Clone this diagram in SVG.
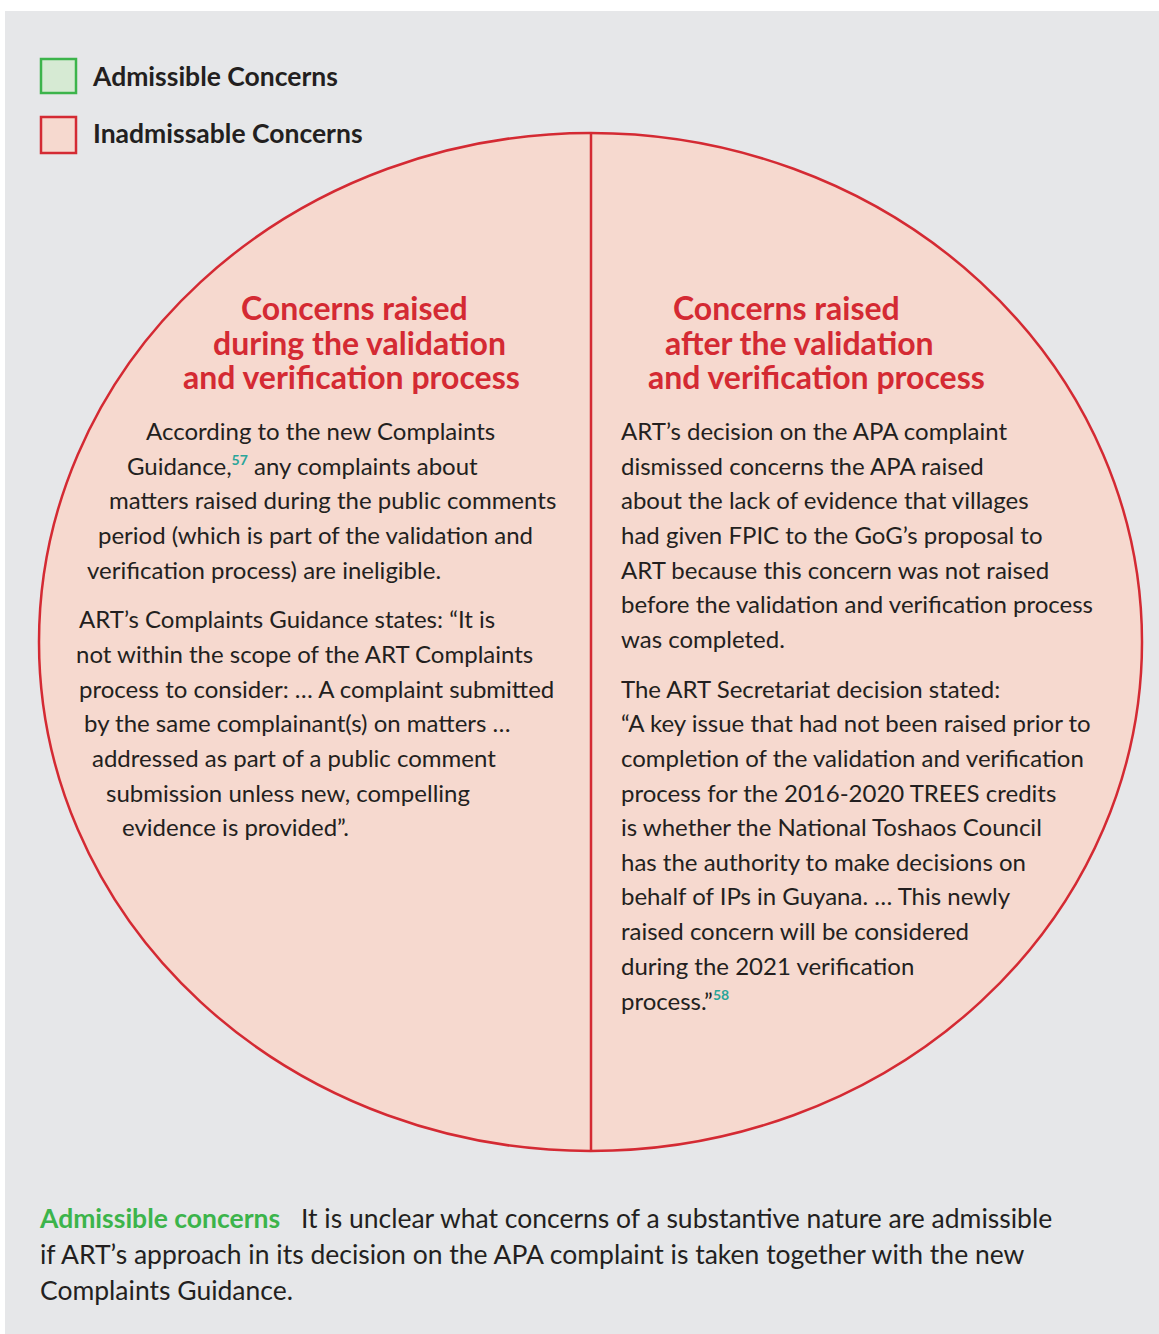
<svg xmlns="http://www.w3.org/2000/svg" width="1159" height="1334" viewBox="0 0 1159 1334">
<style>
.bg{fill:#e6e7e9}
.body{font-family:Lato,"Liberation Sans",sans-serif;font-size:24px;fill:#231f20}
.head{font-family:Lato,"Liberation Sans",sans-serif;font-size:32px;font-weight:bold;fill:#d42a33}
.leg{font-family:Lato,"Liberation Sans",sans-serif;font-size:26.5px;font-weight:bold;fill:#231f20}
.foot{font-family:Lato,"Liberation Sans",sans-serif;font-size:26.5px;fill:#231f20}
.sup{font-size:14px;font-weight:bold;fill:#2aa59a}
</style>
<rect width="1159" height="1334" fill="#ffffff"/>
<rect class="bg" x="5" y="11" width="1154" height="1323"/>
<g id="legend">
<rect x="41" y="59" width="35" height="34" fill="#d6ead3" stroke="#3cb44b" stroke-width="2.5"/>
<text class="leg" x="93" y="86">Admissible Concerns</text>
<rect x="41" y="117" width="35" height="36" fill="#f6d9cf" stroke="#d42a33" stroke-width="2.5"/>
<text class="leg" x="93" y="143">Inadmissable Concerns</text>
</g>
<g id="circle">
<ellipse cx="590.5" cy="642" rx="551.5" ry="509" fill="#f6d9cf" stroke="#d42a33" stroke-width="2.5"/>
</g>
<g id="connectors">
<line x1="591" y1="133" x2="591" y2="1151" stroke="#d42a33" stroke-width="2.5"/>
</g>
<g id="left">
<text class="head" x="241" y="320">Concerns raised</text>
<text class="head" x="213" y="355">during the validation</text>
<text class="head" x="183" y="389">and verification process</text>
<text class="body" x="146" y="440">According to the new Complaints</text>
<text class="body" x="127" y="475">Guidance,<tspan class="sup" dy="-10">57</tspan><tspan dy="10"> any complaints about</tspan></text>
<text class="body" x="109" y="509">matters raised during the public comments</text>
<text class="body" x="98" y="544">period (which is part of the validation and</text>
<text class="body" x="87" y="579">verification process) are ineligible.</text>
<text class="body" x="79" y="628">ART’s Complaints Guidance states: “It is</text>
<text class="body" x="76" y="663">not within the scope of the ART Complaints</text>
<text class="body" x="79" y="698">process to consider: … A complaint submitted</text>
<text class="body" x="84" y="732">by the same complainant(s) on matters …</text>
<text class="body" x="92" y="767">addressed as part of a public comment</text>
<text class="body" x="106" y="802">submission unless new, compelling</text>
<text class="body" x="122" y="836">evidence is provided”.</text>
</g>
<g id="right">
<text class="head" x="673" y="320">Concerns raised</text>
<text class="head" x="665" y="355">after the validation</text>
<text class="head" x="648" y="389">and verification process</text>
<text class="body" x="621" y="440">ART’s decision on the APA complaint</text>
<text class="body" x="621" y="475">dismissed concerns the APA raised</text>
<text class="body" x="621" y="509">about the lack of evidence that villages</text>
<text class="body" x="621" y="544">had given FPIC to the GoG’s proposal to</text>
<text class="body" x="621" y="579">ART because this concern was not raised</text>
<text class="body" x="621" y="613">before the validation and verification process</text>
<text class="body" x="621" y="648">was completed.</text>
<text class="body" x="621" y="698">The ART Secretariat decision stated:</text>
<text class="body" x="621" y="732">“A key issue that had not been raised prior to</text>
<text class="body" x="621" y="767">completion of the validation and verification</text>
<text class="body" x="621" y="802">process for the 2016-2020 TREES credits</text>
<text class="body" x="621" y="836">is whether the National Toshaos Council</text>
<text class="body" x="621" y="871">has the authority to make decisions on</text>
<text class="body" x="621" y="905">behalf of IPs in Guyana. …  This newly</text>
<text class="body" x="621" y="940">raised concern will be considered</text>
<text class="body" x="621" y="975">during the 2021 verification</text>
<text class="body" x="621" y="1010">process.”<tspan class="sup" dy="-10">58</tspan></text>
</g>
<g id="footer">
<text class="foot" x="40" y="1228"><tspan font-weight="bold" fill="#3cb44b">Admissible concerns</tspan><tspan x="301">It is unclear what concerns of a substantive nature are admissible</tspan></text>
<text class="foot" x="40" y="1264">if ART’s approach in its decision on the APA complaint is taken together with the new</text>
<text class="foot" x="40" y="1300">Complaints Guidance.</text>
</g>
</svg>
